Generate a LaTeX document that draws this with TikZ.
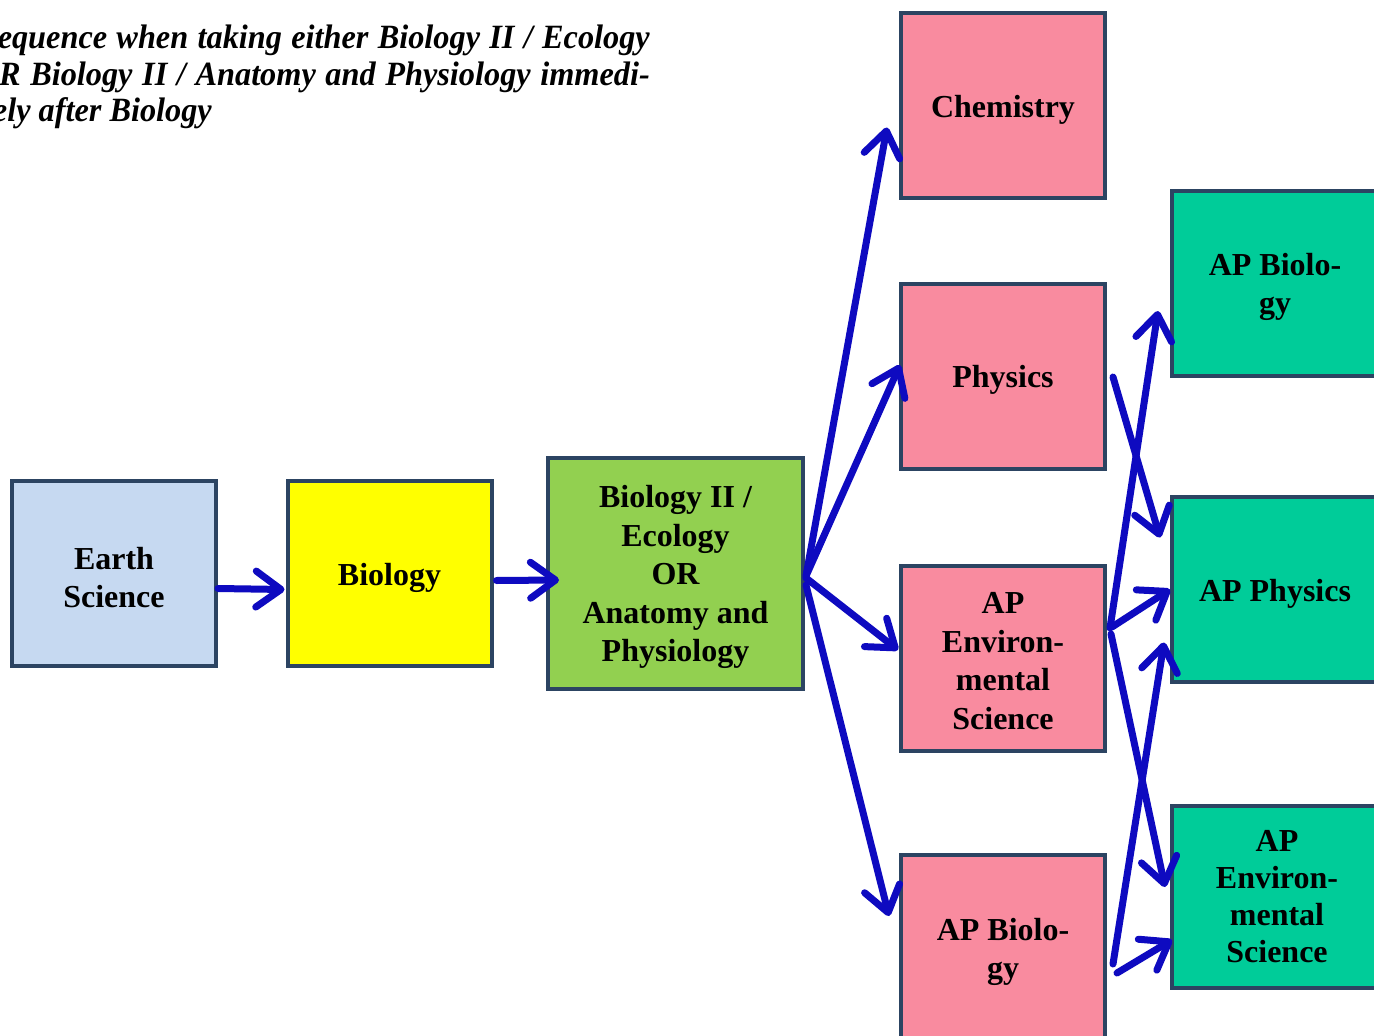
\documentclass[tikz,border=0pt]{standalone}
\usepackage{fontspec}
\setmainfont{Liberation Serif}
\newfontfamily\titlefont{Liberation Serif}[FakeStretch=0.95]
\usetikzlibrary{arrows.meta,calc}
\definecolor{bordc}{RGB}{44,68,98}
\definecolor{earthc}{RGB}{198,217,241}
\definecolor{yelc}{RGB}{255,255,0}
\definecolor{grnc}{RGB}{146,208,80}
\definecolor{pinkc}{RGB}{249,139,159}
\definecolor{tealc}{RGB}{0,204,153}
\definecolor{arrc}{RGB}{14,10,192}
\begin{document}
\begin{tikzpicture}[x=1pt,y=-1pt,
  box/.style={draw=bordc,line width=4pt,rectangle,inner sep=0pt,
    minimum width=204pt,minimum height=185pt},
  lbl/.style={inner sep=0pt,align=center,font=\fontsize{32}{38.5}\selectfont\bfseries},
  conn/.style={draw=arrc,line width=7pt,line cap=round,
    -{Straight Barb[length=25pt,width=36pt,round]}},
  ttl/.style={inner sep=0pt,anchor=base east,font=\titlefont\bfseries\itshape\fontsize{34}{37}\selectfont}]
\useasboundingbox (0,0) rectangle (1374,1036);
\fill[white] (0,0) rectangle (1374,1036);
% title
\node[ttl] (t1) at (650,48) {\makebox[670pt][s]{Sequence when taking either Biology II / Ecology}};
\node[ttl] (t2) at (650,85) {\makebox[674pt][s]{OR Biology II / Anatomy and Physiology immedi-}};
\node[ttl] (t3) at (212,121) {ately after Biology};
% boxes
\node[box,fill=earthc] (earth) at (114,573.5) {};
\node[box,fill=yelc] (bio) at (389.5,573.5) {};
\node[box,fill=grnc,minimum width=255pt,minimum height=231pt] (bio2) at (675.5,573) {};
\node[box,fill=pinkc] (chem) at (1003,105.5) {};
\node[box,fill=pinkc] (phys) at (1003,376) {};
\node[box,fill=pinkc] (apenv) at (1003,658) {};
\node[box,fill=pinkc,minimum height=190pt] (apbio) at (1003,950) {};
\node[box,fill=tealc,minimum width=206pt] (apbior) at (1275,283) {};
\node[box,fill=tealc,minimum width=206pt] (apphys) at (1275,589.5) {};
\node[box,fill=tealc,minimum width=206pt,minimum height=182pt] (apenvr) at (1275,897) {};
% labels
\node[lbl] (earthT) at ($(earth)+(0,4)$) {Earth\\Science};
\node[lbl] (bioT) at ($(bio)+(0,4)$) {Biology};
\node[lbl] (bio2T) at ($(bio2)+(0,4)$) {Biology II /\\Ecology\\OR\\Anatomy and\\Physiology};
\node[lbl] (chemT) at ($(chem)+(0,4)$) {Chemistry};
\node[lbl] (physT) at ($(phys)+(0,4)$) {Physics};
\node[lbl] (apenvT) at ($(apenv)+(0,3)$) {AP\\Environ-\\mental\\Science};
\node[lbl] (apbioT) at ($(apbio)+(0,2)$) {AP Biolo-\\gy};
\node[lbl] (apbiorT) at ($(apbior)+(0,4)$) {AP Biolo-\\gy};
\node[lbl] (apphysT) at ($(apphys)+(0,4)$) {AP Physics};
\node[lbl,font=\fontsize{32}{37}\selectfont\bfseries] (apenvrT) at ($(apenvr)+(2,0)$) {AP\\Environ-\\mental\\Science};
% connectors
\draw[conn] ($(earth.east)+(0,15)$) -- ($(bio.west)+(-1,16)$);
\draw[conn] ($(bio.east)+(3,7)$) -- ($(bio2.west)+(13,7)$);
\draw[conn] ($(bio2.east)+(1,3)$) -- ($(chem.west)+(-12,22)$);
\draw[conn] ($(bio2.east)+(1,3)$) -- ($(phys.west)+(1,-11)$);
\draw[conn] ($(bio2.east)+(1,5)$) -- ($(apenv.west)+(-1,-8)$);
\draw[conn] ($(bio2.east)+(1,12)$) -- ($(apbio.west)+(-10,-34)$);
\draw[conn] ($(phys.east)+(6,1)$) -- ($(apphys.west)+(-10,-52)$);
\draw[conn] ($(apenv.east)+(3,-30)$) -- ($(apbior.west)+(-12,28)$);
\draw[conn] ($(apenv.east)+(5,-31)$) -- ($(apphys.west)+(0,0)$);
\draw[conn] ($(apenv.east)+(4,-24)$) -- ($(apenvr.west)+(-5,-10)$);
\draw[conn] ($(apbio.east)+(6,14)$) -- ($(apphys.west)+(-6,53)$);
\draw[conn] ($(apbio.east)+(10,23)$) -- ($(apenvr.west)+(2,43)$);
\end{tikzpicture}
\end{document}
